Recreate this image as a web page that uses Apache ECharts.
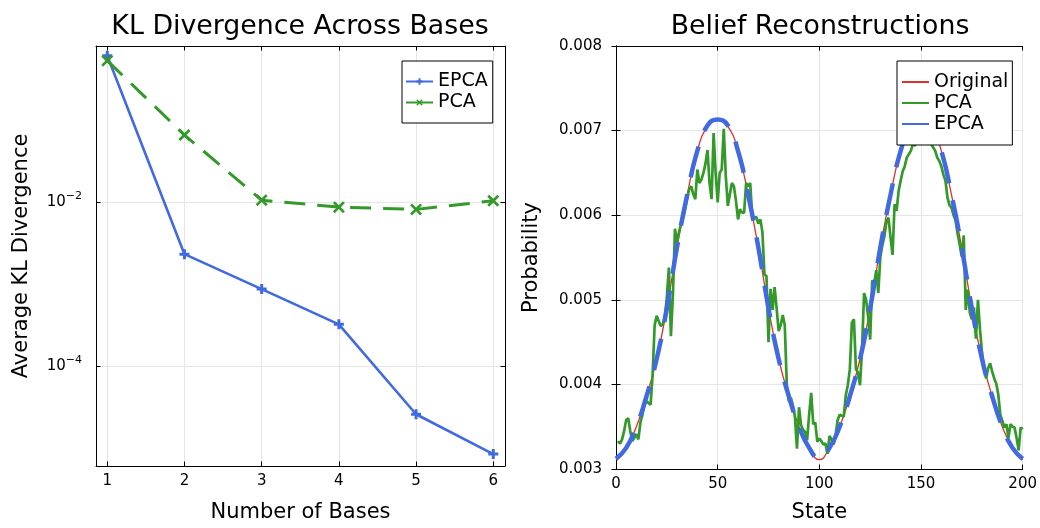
<!DOCTYPE html>
<html><head><meta charset="utf-8">
<script src="https://cdn.jsdelivr.net/npm/echarts@6/dist/echarts.min.js"></script>
<style>html,body{margin:0;padding:0;background:#fff}#c{width:1040px;height:528px}</style>
</head><body><div id="c"></div>
<script>
// ---------- data ----------
const bases = [1, 2, 3, 4, 5, 6];
const epcaKL = [0.605, 0.00233, 0.000875, 0.000326, 0.0000263, 0.0000086];
const pcaKL = [0.527, 0.0656, 0.01057, 0.0087, 0.00817, 0.0104];
const klTickValues = [0.0001, 0.01];
const klTickExponents = ['−4', '−2'];

const stateTicks = [0, 50, 100, 150, 200];
const probTicks = [0.003, 0.004, 0.005, 0.006, 0.007, 0.008];

const origStates = [0,5,10,15,20,25,30,35,40,45,50,55,60,65,70,75,80,85,90,95,100,
  105,110,115,120,125,130,135,140,145,150,155,160,165,170,175,180,185,190,195,200];
const origValues = [0.00311,0.00325,0.00350,0.00386,0.00430,0.00490,0.00562,0.00624,0.00676,0.00705,0.00712,
  0.00705,0.00676,0.00624,0.00562,0.00490,0.00430,0.00386,0.00350,0.00325,0.00311,
  0.00325,0.00350,0.00386,0.00430,0.00490,0.00562,0.00624,0.00676,0.00705,0.00712,
  0.00705,0.00676,0.00624,0.00562,0.00490,0.00430,0.00386,0.00350,0.00325,0.00311];
const epcaRecon = [0.00312,0.00325,0.00350,0.00386,0.00430,0.00490,0.00562,0.00624,0.00676,0.00706,0.00713,
  0.00706,0.00676,0.00624,0.00562,0.00490,0.00430,0.00386,0.00350,0.00325,0.00312,
  0.00325,0.00350,0.00386,0.00430,0.00490,0.00562,0.00624,0.00676,0.00706,0.00713,
  0.00706,0.00676,0.00624,0.00562,0.00490,0.00430,0.00386,0.00350,0.00325,0.00312];
// PCA reconstruction, states 1..200
const pcaRecon = [
  0.00333,0.00330,0.00335,0.00345,0.00358,0.00360,0.00345,0.00333,0.00337,0.00341,
  0.00335,0.00355,0.00364,0.00376,0.00380,0.00378,0.00376,0.00411,0.00470,0.00481,
  0.00475,0.00469,0.00471,0.00479,0.00503,0.00538,0.00457,0.00507,0.00584,0.00568,
  0.00580,0.00590,0.00597,0.00607,0.00620,0.00631,0.00634,0.00625,0.00619,0.00654,
  0.00638,0.00642,0.00650,0.00661,0.00677,0.00638,0.00619,0.00697,0.00650,0.00615,
  0.00650,0.00654,0.00702,0.00646,0.00611,0.00625,0.00638,0.00634,0.00617,0.00595,
  0.00607,0.00603,0.00603,0.00638,0.00634,0.00638,0.00599,0.00597,0.00598,0.00590,
  0.00595,0.00580,0.00530,0.00528,0.00450,0.00513,0.00488,0.00515,0.00490,0.00463,
  0.00470,0.00482,0.00470,0.00399,0.00380,0.00384,0.00375,0.00362,0.00324,0.00373,
  0.00352,0.00346,0.00344,0.00334,0.00365,0.00390,0.00353,0.00355,0.00332,0.00336,
  0.00333,0.00329,0.00330,0.00318,0.00339,0.00335,0.00329,0.00340,0.00358,0.00364,
  0.00363,0.00362,0.00387,0.00399,0.00418,0.00473,0.00477,0.00418,0.00414,0.00399,
  0.00442,0.00508,0.00500,0.00480,0.00453,0.00523,0.00519,0.00535,0.00508,0.00551,
  0.00565,0.00575,0.00593,0.00597,0.00574,0.00553,0.00613,0.00605,0.00629,0.00641,
  0.00652,0.00658,0.00668,0.00672,0.00676,0.00684,0.00682,0.00688,0.00686,0.00690,
  0.00684,0.00688,0.00686,0.00688,0.00684,0.00680,0.00676,0.00668,0.00664,0.00658,
  0.00648,0.00641,0.00621,0.00612,0.00609,0.00600,0.00594,0.00578,0.00566,0.00551,
  0.00576,0.00488,0.00512,0.00485,0.00477,0.00491,0.00454,0.00500,0.00465,0.00438,
  0.00419,0.00407,0.00419,0.00425,0.00415,0.00407,0.00401,0.00388,0.00364,0.00357,
  0.00349,0.00353,0.00337,0.00353,0.00350,0.00349,0.00337,0.00322,0.00349,0.00347];

// ---------- styles ----------
const FONT = 'DejaVu Sans';
const BLUE = '#4169E1', GREEN = '#339a2a', RED = '#e0302a';
const GRID = '#e6e6e6';
const PLUS = 'path://M3.5,0H6.5V3.5H10V6.5H6.5V10H3.5V6.5H0V3.5H3.5Z';
const CROSS = 'path://M0,1.6L1.6,0L5,3.4L8.4,0L10,1.6L6.6,5L10,8.4L8.4,10L5,6.6L1.6,10L0,8.4L3.4,5Z';

const tickStyle = { show: true, inside: true, length: 4.5, lineStyle: { color: '#000', width: 1 } };
const lineAxis = { show: true, lineStyle: { color: '#000', width: 1 } };
const labelStyle = { color: '#000', fontSize: 15, fontFamily: FONT };
const nameStyle = { color: '#000', fontSize: 21, fontFamily: FONT };

const klMin = Math.pow(10, -5.21), klMax = Math.pow(10, -0.10);

function mirror(base, pos) {
  return Object.assign({}, base, {
    position: pos, name: '', axisLabel: { show: false }, splitLine: { show: false }
  });
}

const leftX = {
  type: 'value', gridIndex: 0, min: 0.854, max: 6.152, position: 'bottom',
  axisLine: lineAxis,
  axisTick: Object.assign({}, tickStyle, { customValues: bases }),
  axisLabel: Object.assign({}, labelStyle, { margin: 8, customValues: bases }),
  splitLine: { show: true, lineStyle: { color: GRID, width: 1 } },
  name: 'Number of Bases', nameLocation: 'middle', nameGap: 36, nameTextStyle: nameStyle
};
const leftY = {
  type: 'log', logBase: 10, gridIndex: 0, min: klMin, max: klMax, position: 'left',
  axisLine: lineAxis,
  axisTick: Object.assign({}, tickStyle, { customValues: klTickValues }),
  axisLabel: Object.assign({}, labelStyle, {
    margin: 14, customValues: klTickValues,
    formatter: function (v) {
      for (let i = 0; i < klTickValues.length; i++) {
        if (Math.abs(Math.log10(v) - Math.log10(klTickValues[i])) < 1e-6) return '10{s|' + klTickExponents[i] + '}';
      }
      return '';
    },
    rich: { s: { fontSize: 11, fontFamily: FONT, color: '#000', padding: [0, 0, 12, 0] } }
  }),
  splitLine: { show: true, lineStyle: { color: GRID, width: 1 } },
  name: 'Average KL Divergence', nameLocation: 'middle', nameGap: 64, nameTextStyle: nameStyle
};
const rightX = {
  type: 'value', gridIndex: 1, min: 0, max: 200, interval: 50, position: 'bottom',
  axisLine: lineAxis, axisTick: tickStyle,
  axisLabel: Object.assign({}, labelStyle, { margin: 8 }),
  splitLine: { show: true, lineStyle: { color: GRID, width: 1 } },
  name: 'State', nameLocation: 'middle', nameGap: 33, nameTextStyle: nameStyle
};
const rightY = {
  type: 'value', gridIndex: 1, min: 0.003, max: 0.008, interval: 0.001, position: 'left',
  axisLine: lineAxis, axisTick: tickStyle,
  axisLabel: Object.assign({}, labelStyle, { margin: 14, formatter: v => v.toFixed(3) }),
  splitLine: { show: true, lineStyle: { color: GRID, width: 1 } },
  name: 'Probability', nameLocation: 'middle', nameGap: 74, nameTextStyle: nameStyle
};

const legendBase = {
  orient: 'vertical', itemWidth: 27, itemHeight: 8, itemGap: 2,
  borderColor: '#000', borderWidth: 1, backgroundColor: '#fff',
  textStyle: { fontSize: 19, fontFamily: FONT, color: '#000', lineHeight: 19 },
  selectedMode: false
};

const option = {
  animation: false,
  backgroundColor: '#fff',
  textStyle: { fontFamily: FONT },
  title: [
    { text: 'KL Divergence Across Bases', left: 300, top: 14, textAlign: 'center', padding: 0,
      textStyle: { fontSize: 26.8, fontWeight: 'normal', color: '#000', fontFamily: FONT } },
    { text: 'Belief Reconstructions', left: 820, top: 14, textAlign: 'center', padding: 0,
      textStyle: { fontSize: 26.8, fontWeight: 'normal', color: '#000', fontFamily: FONT } }
  ],
  grid: [
    { left: 96, top: 46, width: 409, height: 425, containLabel: false },
    { left: 616, top: 46, width: 408, height: 429, containLabel: false }
  ],
  xAxis: [leftX, mirror(leftX, 'top'), rightX, mirror(rightX, 'top')],
  yAxis: [leftY, mirror(leftY, 'right'), rightY, mirror(rightY, 'right')],
  legend: [
    Object.assign({}, legendBase, {
      left: 402, top: 61, padding: [11, 5, 11, 3],
      data: ['EPCA', { name: 'PCA', lineStyle: { type: 'solid' } }]
    }),
    Object.assign({}, legendBase, {
      left: 897, top: 61, padding: [11.5, 4, 11.5, 4],
      formatter: n => n.trim(),
      data: [
        { name: 'Original', itemStyle: { opacity: 0 } },
        { name: 'PCA ', itemStyle: { opacity: 0 } },
        { name: 'EPCA ', itemStyle: { opacity: 0 }, lineStyle: { type: 'solid' } }
      ]
    })
  ],
  series: [
    { type: 'line', name: 'EPCA', xAxisIndex: 0, yAxisIndex: 0,
      data: bases.map((b, i) => [b, epcaKL[i]]),
      symbol: PLUS, symbolSize: 10, showSymbol: true,
      lineStyle: { color: BLUE, width: 2.6 }, itemStyle: { color: BLUE } },
    { type: 'line', name: 'PCA', xAxisIndex: 0, yAxisIndex: 0,
      data: bases.map((b, i) => [b, pcaKL[i]]),
      symbol: CROSS, symbolSize: 12, showSymbol: true,
      lineStyle: { color: GREEN, width: 3, type: [21, 12] }, itemStyle: { color: GREEN } },
    { type: 'line', name: 'Original', xAxisIndex: 2, yAxisIndex: 2,
      data: origStates.map((x, i) => [x, origValues[i]]), smooth: true,
      symbol: 'none', lineStyle: { color: RED, width: 1.3 }, itemStyle: { color: RED } },
    { type: 'line', name: 'PCA ', xAxisIndex: 2, yAxisIndex: 2,
      data: pcaRecon.map((v, i) => [i + 1, v]),
      symbol: 'none', lineStyle: { color: GREEN, width: 2.7 }, itemStyle: { color: GREEN } },
    { type: 'line', name: 'EPCA ', xAxisIndex: 2, yAxisIndex: 2,
      data: origStates.map((x, i) => [x, epcaRecon[i]]), smooth: true,
      symbol: 'none', lineStyle: { color: BLUE, width: 4.5, type: [32, 17] }, itemStyle: { color: BLUE } }
  ]
};

const chart = echarts.init(document.getElementById('c'), null, { renderer: 'canvas' });
chart.setOption(option);
</script>
</body></html>
